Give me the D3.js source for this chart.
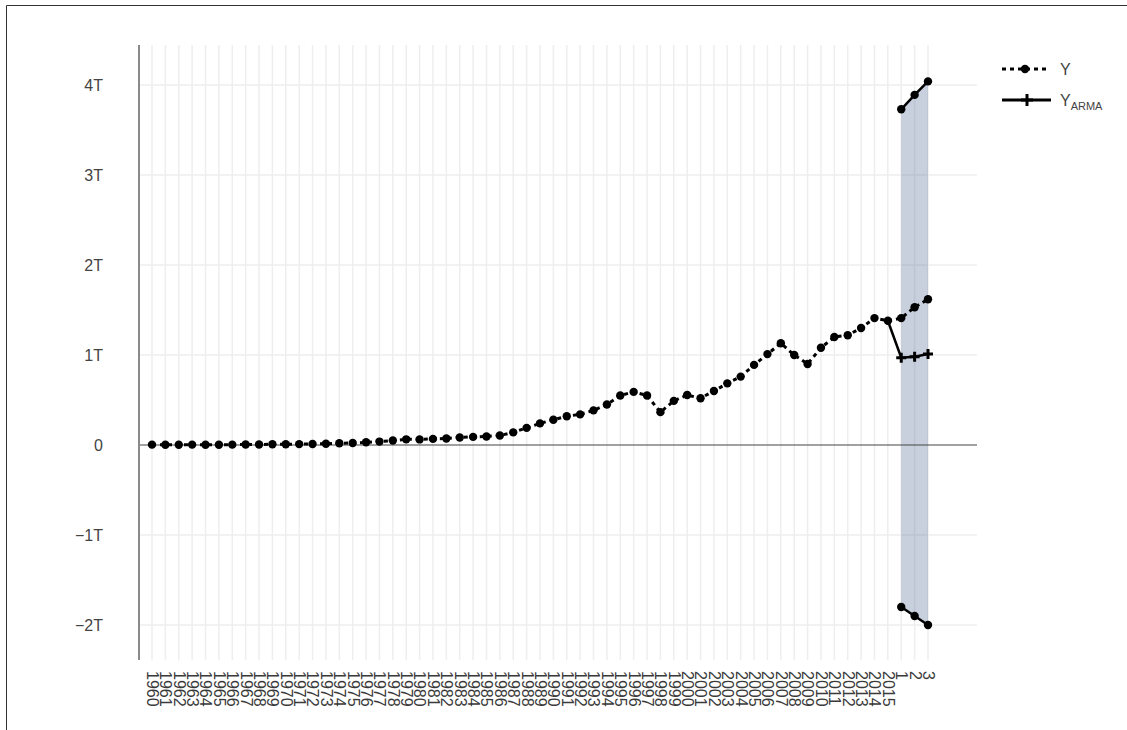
<!DOCTYPE html>
<html>
<head>
<meta charset="utf-8">
<script src="https://cdn.jsdelivr.net/npm/d3@7"></script>
<style>
  html, body { margin: 0; padding: 0; background: #fff; }
  svg { display: block; font-family: "Liberation Sans", Arial, sans-serif; }
</style>
</head>
<body>
<svg id="chart" width="1127" height="730"></svg>
<script>
// Annual observations (billions of USD), 1960–2015
const years = d3.range(1960, 2016).map(String);
const yValues = [
  4, 2, 3, 4, 3, 3, 4, 5, 6, 8,
  9, 10, 11, 14, 19, 22, 30, 38, 50, 63,
  62, 68, 72, 84, 90, 95, 105, 140, 190, 240,
  280, 320, 340, 385, 450, 550, 590, 550, 365, 490,
  555, 520, 600, 685, 760, 890, 1010, 1130, 1000, 900,
  1080, 1200, 1220, 1300, 1410, 1380
];
// Forecast horizon steps
const steps = ["1", "2", "3"];
const yFuture = [1410, 1530, 1620];
const armaForecast = [970, 980, 1010];
const upperBound = [3730, 3890, 4040];
const lowerBound = [-1800, -1900, -2000];
const yTicks = [-2e12, -1e12, 0, 1e12, 2e12, 3e12, 4e12];

const B = 1e9;
const categories = years.concat(steps);

const svg = d3.select("#chart");
const plot = { left: 139, right: 977, top: 45, bottom: 660 };

const x = d3.scalePoint().domain(categories).range([152, 928]);
const y = d3.scaleLinear().domain([-2e12, 4e12]).range([625, 85]);

// frame
svg.append("path")
  .attr("d", "M6.5,730 V5.5 H1127")
  .attr("fill", "none").attr("stroke", "#333").attr("stroke-width", 1);

// gridlines
const grid = svg.append("g");
grid.selectAll(".vg").data(categories).join("line")
  .attr("x1", d => x(d)).attr("x2", d => x(d))
  .attr("y1", plot.top).attr("y2", plot.bottom)
  .attr("stroke", "#eeeeee").attr("stroke-width", 1.5);
grid.selectAll(".hg").data(yTicks.filter(t => t !== 0)).join("line")
  .attr("x1", plot.left).attr("x2", plot.right)
  .attr("y1", d => y(d)).attr("y2", d => y(d))
  .attr("stroke", "#eeeeee").attr("stroke-width", 1.5);

// forecast interval band
const band = steps.map((s, i) => ({ s, lo: lowerBound[i] * B, hi: upperBound[i] * B }));
svg.append("path").datum(band)
  .attr("fill", "#4a6391").attr("fill-opacity", 0.3)
  .attr("d", d3.area().x(d => x(d.s)).y0(d => y(d.lo)).y1(d => y(d.hi)));

// axes lines
svg.append("line")
  .attr("x1", plot.left).attr("x2", plot.right)
  .attr("y1", y(0)).attr("y2", y(0))
  .attr("stroke", "#444").attr("stroke-width", 1.2);
svg.append("line")
  .attr("x1", plot.left).attr("x2", plot.left)
  .attr("y1", plot.top).attr("y2", plot.bottom)
  .attr("stroke", "#8a8a8a").attr("stroke-width", 2);

// y axis labels
const yAxis = d3.axisLeft(y).tickValues(yTicks).tickFormat(d3.format("~s")).tickSize(0).tickPadding(0);
const yg = svg.append("g").attr("transform", "translate(103,0)").call(yAxis);
yg.select(".domain").remove();
yg.selectAll("text").attr("fill", "#444").attr("font-size", 16)
  .attr("font-family", "Liberation Sans, Arial, sans-serif");

// x axis labels, vertical
const xAxis = d3.axisBottom(x).tickSize(0).tickPadding(0);
const xg = svg.append("g").attr("transform", "translate(0,671)").call(xAxis);
xg.select(".domain").remove();
xg.selectAll("text")
  .attr("transform", "rotate(90)")
  .attr("text-anchor", "start")
  .attr("x", 0).attr("y", 0).attr("dy", "0.35em")
  .attr("fill", "#3a3a3a").attr("font-size", 16)
  .attr("font-family", "Liberation Sans, Arial, sans-serif");

// observed series (dotted with dots)
const yPts = years.map((c, i) => ({ c, v: yValues[i] * B }))
  .concat(steps.map((c, i) => ({ c, v: yFuture[i] * B })));
const line = d3.line().x(d => x(d.c)).y(d => y(d.v));
svg.append("path").datum(yPts)
  .attr("fill", "none").attr("stroke", "#000").attr("stroke-width", 3)
  .attr("stroke-dasharray", "4,4").attr("d", line);
svg.append("g").selectAll("circle").data(yPts).join("circle")
  .attr("cx", d => x(d.c)).attr("cy", d => y(d.v)).attr("r", 4.2).attr("fill", "#000");

// interval bounds
[upperBound, lowerBound].forEach(arr => {
  const pts = steps.map((c, i) => ({ c, v: arr[i] * B }));
  svg.append("path").datum(pts)
    .attr("fill", "none").attr("stroke", "#000").attr("stroke-width", 2.5).attr("d", line);
  svg.append("g").selectAll("circle").data(pts).join("circle")
    .attr("cx", d => x(d.c)).attr("cy", d => y(d.v)).attr("r", 4.2).attr("fill", "#000");
});

// ARMA forecast, starting from the last observation
const armaPts = [{ c: years[years.length - 1], v: yValues[yValues.length - 1] * B }]
  .concat(steps.map((c, i) => ({ c, v: armaForecast[i] * B })));
svg.append("path").datum(armaPts)
  .attr("fill", "none").attr("stroke", "#000").attr("stroke-width", 2.5).attr("d", line);
const plus = svg.append("g");
armaPts.slice(1).forEach(d => {
  plus.append("path")
    .attr("d", `M${x(d.c) - 5},${y(d.v)}H${x(d.c) + 5}M${x(d.c)},${y(d.v) - 5}V${y(d.v) + 5}`)
    .attr("stroke", "#000").attr("stroke-width", 3);
});

// legend
const lg = svg.append("g");
lg.append("line").attr("x1", 1002).attr("x2", 1046).attr("y1", 69).attr("y2", 69)
  .attr("stroke", "#000").attr("stroke-width", 3).attr("stroke-dasharray", "4,4");
lg.append("circle").attr("cx", 1025).attr("cy", 69).attr("r", 4.2).attr("fill", "#000");
lg.append("text").attr("x", 1060).attr("y", 69).attr("dy", "0.35em")
  .attr("font-size", 16).attr("fill", "#444").text("Y");

lg.append("line").attr("x1", 1002).attr("x2", 1051).attr("y1", 100).attr("y2", 100)
  .attr("stroke", "#000").attr("stroke-width", 3);
lg.append("path").attr("d", "M1021,100H1033M1027,94V106")
  .attr("stroke", "#000").attr("stroke-width", 3);
const lt = lg.append("text").attr("x", 1060).attr("y", 100).attr("dy", "0.35em")
  .attr("font-size", 16).attr("fill", "#444");
lt.append("tspan").text("Y");
lt.append("tspan").attr("font-size", 11).attr("dy", "4").text("ARMA");
</script>
</body>
</html>
